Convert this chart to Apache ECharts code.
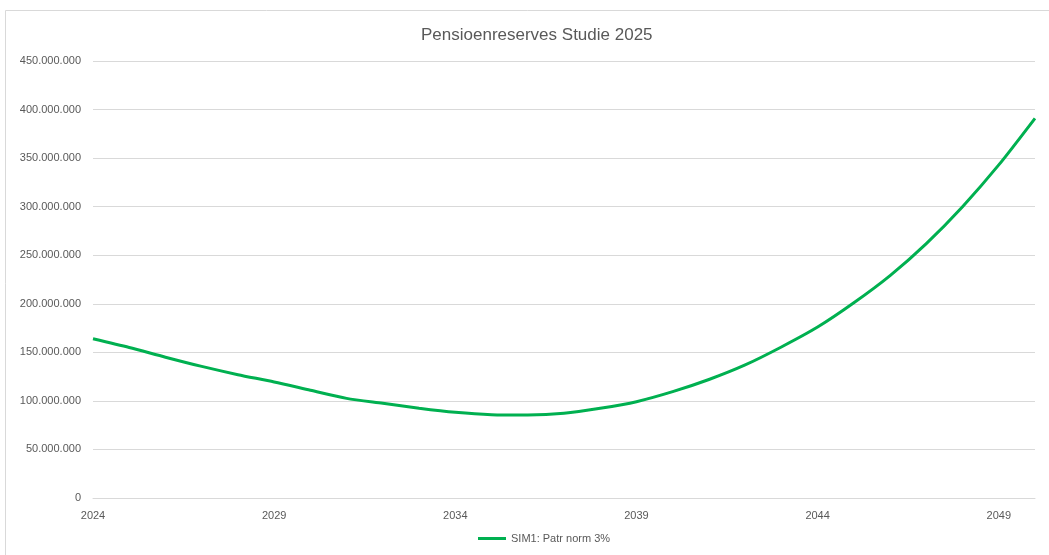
<!DOCTYPE html>
<html>
<head>
<meta charset="utf-8">
<script src="https://cdn.jsdelivr.net/npm/echarts@6/dist/echarts.min.js"></script>
<style>
  html, body { margin: 0; padding: 0; background: #fff; }
  #chart { width: 1049px; height: 555px; }
</style>
</head>
<body>
<div id="chart"></div>
<script>
// years on the x axis
const years = ['2024', '2025', '2026', '2027', '2028', '2029', '2030', '2031', '2032', '2033',
  '2034', '2035', '2036', '2037', '2038', '2039', '2040', '2041', '2042', '2043',
  '2044', '2045', '2046', '2047', '2048', '2049', '2050']

// SIM1: Patr norm 3%
const sim1 = [164e6, 155e6, 145e6, 135.5e6, 127e6, 119.5e6, 111e6, 102.6e6, 97.5e6, 92.4e6,
  88.2e6, 85.8e6, 85.5e6, 87.2e6, 92.4e6, 99.2e6, 109.5e6, 122e6, 137e6, 155.5e6,
  176e6, 201e6, 229e6, 262e6, 300e6, 343e6, 391e6]

const seriesName = 'SIM1: Patr norm 3%'
const titleText = 'Pensioenreserves Studie 2025'

const fmt = (v) => String(Math.round(v)).replace(/\B(?=(\d{3})+(?!\d))/g, '.')

const chart = echarts.init(document.getElementById('chart'))
chart.setOption({
  backgroundColor: '#fff',
  animation: false,
  textStyle: { fontFamily: 'Liberation Sans' },
  graphic: [{
    type: 'rect',
    shape: { x: 5.5, y: 10.5, width: 1050, height: 560 },
    style: { fill: 'none', stroke: '#d9d9d9', lineWidth: 1 },
    silent: true
  }],
  title: {
    text: titleText,
    left: 416,
    top: 22,
    textStyle: { color: '#595959', fontSize: 17, fontWeight: 'normal', fontFamily: 'Liberation Sans' }
  },
  grid: { left: 93, right: 14, top: 61, bottom: 57, containLabel: false },
  legend: {
    bottom: 6,
    left: 473,
    icon: 'rect',
    itemWidth: 28,
    itemHeight: 3,
    itemGap: 10,
    textStyle: { color: '#595959', fontSize: 11 },
    data: [seriesName]
  },
  xAxis: {
    type: 'category',
    boundaryGap: false,
    data: years,
    axisLine: { show: true, lineStyle: { color: '#d9d9d9', width: 1 } },
    axisTick: { show: false },
    axisLabel: { color: '#595959', fontSize: 11, interval: 4, margin: 12 },
    splitLine: { show: false }
  },
  yAxis: {
    type: 'value',
    min: 0,
    max: 450000000,
    interval: 50000000,
    axisLine: { show: false },
    axisTick: { show: false },
    axisLabel: { color: '#595959', fontSize: 11, margin: 12, formatter: fmt },
    splitLine: { show: true, lineStyle: { color: '#d9d9d9', width: 1 } }
  },
  series: [{
    name: seriesName,
    type: 'line',
    data: sim1,
    smooth: 0.25,
    showSymbol: false,
    symbol: 'none',
    lineStyle: { color: '#00b050', width: 3 },
    itemStyle: { color: '#00b050' }
  }]
})
</script>
</body>
</html>
